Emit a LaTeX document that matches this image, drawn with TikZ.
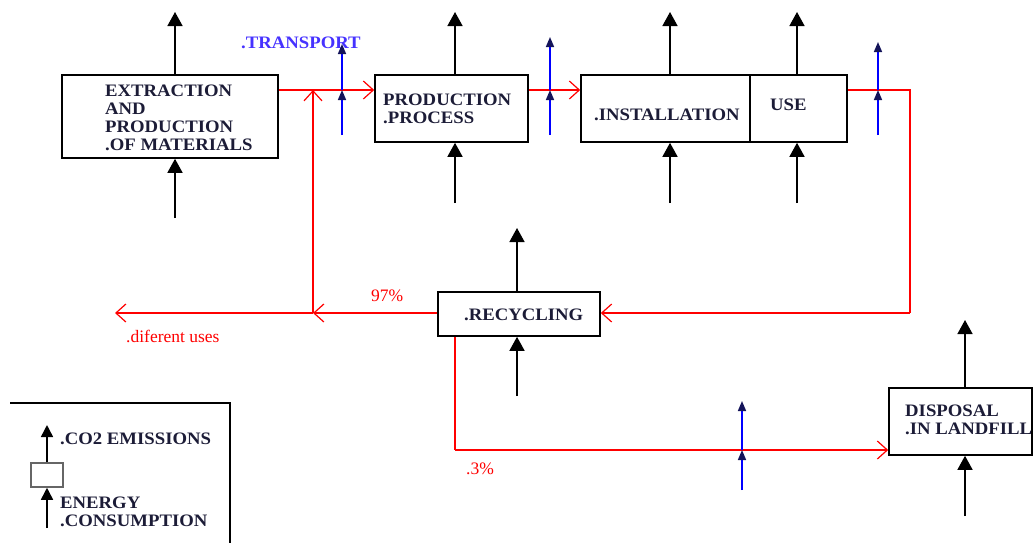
\documentclass[tikz,border=0pt]{standalone}
\usepackage{fontspec}
\setmainfont{Liberation Serif}
\newfontfamily\boxfont[FakeStretch=1.07]{Liberation Serif}
\usetikzlibrary{arrows.meta}
\definecolor{txt}{RGB}{28,28,55}
\definecolor{flowred}{RGB}{255,0,0}
\definecolor{trblue}{RGB}{0,0,255}
\definecolor{trtxt}{RGB}{70,50,255}
\definecolor{tiptr}{RGB}{20,20,90}
\begin{document}
\begin{tikzpicture}[x=1pt,y=-1pt,
  box/.style={draw=black, line width=1.6pt, inner sep=0pt, rectangle},
  lbl/.style={inner sep=0pt, anchor=base west, align=left, text=txt,
    font=\fontsize{17.5}{18}\boxfont\bfseries},
  rlbl/.style={inner sep=0pt, anchor=base west, text=flowred,
    font=\fontsize{17.5}{18}\selectfont},
  emit/.style={draw=black, line width=1.5pt, -{Triangle[width=15pt,length=14pt]}},
  lemit/.style={draw=black, line width=1.5pt, -{Triangle[width=12pt,length=12pt]}},
  flow/.style={draw=flowred, line width=1.4pt, -{Straight Barb[length=10pt,width=18pt,line width=1.2pt]}},
  flowline/.style={draw=flowred, line width=1.4pt},
  trans/.style={draw=trblue, line width=1.6pt, -{Triangle[width=8pt,length=10pt,color=tiptr]}}
]
\useasboundingbox (0,0) rectangle (1033,542);

% boxes
\node[box, minimum width=216pt, minimum height=83pt] (ext) at (170,116.5) {};
\node[box, minimum width=153pt, minimum height=67pt] (prod) at (451.5,108.5) {};
\node[box, minimum width=169pt, minimum height=67pt] (inst) at (665.5,108.5) {};
\node[box, minimum width=97pt, minimum height=67pt] (use) at (798.5,108.5) {};
\node[box, minimum width=162pt, minimum height=44pt] (rec) at (519,314) {};
\node[box, minimum width=143pt, minimum height=67pt] (disp) at (960.5,421.5) {};

% box texts (multi-line nodes: base = last line)
\node[lbl] (textext) at (105,150) {EXTRACTION\\AND\\PRODUCTION\\.OF MATERIALS};
\node[lbl] (textprod) at (383,123) {PRODUCTION\\.PROCESS};
\node[lbl] (textinst) at (594,120) {.INSTALLATION};
\node[lbl] (textuse) at (770,110) {USE};
\node[lbl] (textrec) at (464,320) {.RECYCLING};
\node[lbl] (textdisp) at (905,434) {DISPOSAL\\.IN LANDFILL};
\node[lbl, text=trtxt] (texttr) at (241,48) {.TRANSPORT};

% emission / energy coordinates
\coordinate (e1) at (175,12);  \coordinate (c1) at (175,218);
\coordinate (e2) at (455,12);  \coordinate (c2) at (455,203);
\coordinate (e3) at (670,12);  \coordinate (c3) at (670,203);
\coordinate (e4) at (797,12);  \coordinate (c4) at (797,203);
\coordinate (e5) at (517,228); \coordinate (c5) at (517,396);
\coordinate (e6) at (965,320); \coordinate (c6) at (965,516);

\draw[emit] (ext.north -| e1) -- (e1);
\draw[emit] (c1) -- (c1 |- ext.south);
\draw[emit] (prod.north -| e2) -- (e2);
\draw[emit] (c2) -- (c2 |- prod.south);
\draw[emit] (inst.north -| e3) -- (e3);
\draw[emit] (c3) -- (c3 |- inst.south);
\draw[emit] (use.north -| e4) -- (e4);
\draw[emit] (c4) -- (c4 |- use.south);
\draw[emit] (rec.north -| e5) -- (e5);
\draw[emit] (c5) -- (c5 |- rec.south);
\draw[emit] (disp.north -| e6) -- (e6);
\draw[emit] (c6) -- (c6 |- disp.south);

% red material flows
\coordinate (j1) at (313,90);
\coordinate (j2) at (313,313);
\coordinate (du) at (115,313);
\coordinate (r1) at (910,90);
\coordinate (r2) at (910,313);
\coordinate (d1) at (455,450);

\draw[flow] (ext.east |- j1) -- (prod.west |- j1);
\draw[flow] (prod.east |- j1) -- (inst.west |- j1);
\draw[flowline] (use.east |- r1) -- (r1) -- (r2);
\draw[flow] (r2) -- (rec.east |- r2);
\draw[flow] (rec.west |- j2) -- (j2);
\draw[flow] (j2) -- (du);
\draw[flow] (j2) -- (j1);
\draw[flowline] (rec.south -| d1) -- (d1);
\draw[flow] (d1) -- (disp.west |- d1);

\node[rlbl] (p97) at (371,301) {97\%};
\node[rlbl] (pdu) at (126,342) {.diferent uses};
\node[rlbl] (p3) at (466,474) {.3\%};

% transport arrows
\coordinate (t1b) at (342,135); \coordinate (t1x) at (342,90); \coordinate (t1t) at (342,44);
\coordinate (t2b) at (550,135); \coordinate (t2x) at (550,90); \coordinate (t2t) at (550,37);
\coordinate (t3b) at (878,135); \coordinate (t3x) at (878,90); \coordinate (t3t) at (878,42);
\coordinate (t4b) at (742,490); \coordinate (t4x) at (742,450); \coordinate (t4t) at (742,401);
\draw[trans] (t1b) -- (t1x); \draw[trans] (t1x) -- (t1t);
\draw[trans] (t2b) -- (t2x); \draw[trans] (t2x) -- (t2t);
\draw[trans] (t3b) -- (t3x); \draw[trans] (t3x) -- (t3t);
\draw[trans] (t4b) -- (t4x); \draw[trans] (t4x) -- (t4t);

% legend
\draw[line width=1.5pt] (10,403) -- (230,403) -- (230,545);
\node[draw=black!60, line width=1.5pt, minimum width=32pt, minimum height=24pt, inner sep=0pt] (lbox) at (47,475) {};
\coordinate (le) at (47,425);
\coordinate (lc) at (47,528);
\draw[lemit] (lbox.north) -- (le);
\draw[lemit] (lc) -- (lbox.south);
\node[lbl] (lco2) at (60,444) {.CO2 EMISSIONS};
\node[lbl] (lene) at (60,526) {ENERGY\\.CONSUMPTION};
\end{tikzpicture}
\end{document}
